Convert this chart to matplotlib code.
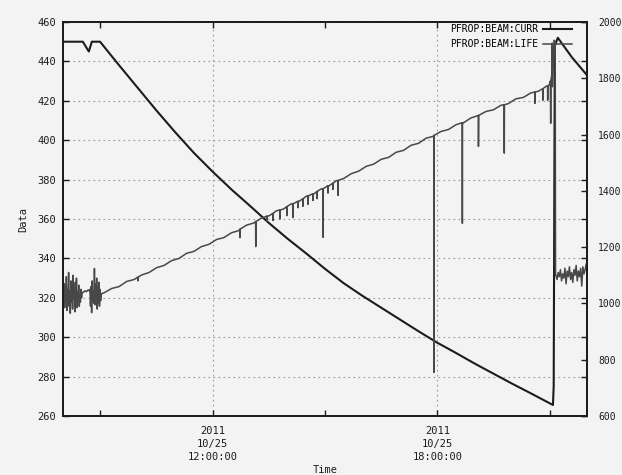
import numpy as np
import pandas as pd
import matplotlib
matplotlib.use("Agg")
import matplotlib.pyplot as plt
import matplotlib.dates as mdates

DAY = pd.Timestamp("2011-10-25")

# ---------------- data (hours of 2011-10-25) ----------------
# PFROP:BEAM:CURR  (left axis)
curr_hours = [8.00, 8.53, 8.69, 8.77, 8.99, 9.5, 10.0, 10.5, 11.0, 11.5, 12.0, 12.5,
              13.0, 13.5, 14.0, 14.5, 15.0, 15.5, 16.0, 16.5, 17.0, 17.5, 18.0, 18.5,
              19.0, 19.5, 20.0, 20.5, 21.0, 21.09, 21.11, 21.14, 21.22, 21.6, 22.0]
curr_values = [450, 450, 445, 450, 450, 438, 426.5, 415, 404, 393.5, 384, 375,
               366.6, 358, 350, 342.5, 334.7, 327.4, 321, 315, 309, 303, 297.2, 292,
               286.6, 281.5, 276.4, 271.5, 266.5, 265.6, 275, 448, 452, 442, 433]

# PFROP:BEAM:LIFE  (right axis)
# noisy start, 8:00 - 8:31, every 0.015 h
life_noise1_start, life_noise1_step = 8.00, 0.015
life_noise1 = [1040, 1000, 1070, 985, 1060, 1010, 1095, 975, 1050, 1020, 1110, 990,
               1045, 965, 1080, 1005, 1060, 980, 1100, 1015, 1055, 970, 1075, 1000,
               1090, 985, 1040, 1010, 1065, 990, 1030, 1005, 1050, 1020, 1035, 1040]
life_quiet_hours = [8.55, 8.59, 8.63, 8.67, 8.70]
life_quiet_values = [1040, 1045, 1042, 1048, 1045]
# second noisy part, 8:43 - 9:02
life_noise2_start, life_noise2_step = 8.72, 0.015
life_noise2 = [1050, 990, 1060, 967, 1080, 1010, 1040, 1000, 1124, 995, 1070, 1020,
               1090, 980, 1060, 1000, 1075, 990, 1050, 1010, 1030, 1035]
# steady rise, every 0.2 h from 9.1 h
life_trend_start, life_trend_step = 9.1, 0.2
life_trend = [1038, 1053, 1060, 1078, 1085, 1101, 1110, 1127, 1135, 1152,
              1160, 1178, 1185, 1202, 1210, 1227, 1234, 1251, 1259, 1278,
              1286, 1303, 1311, 1329, 1336, 1354, 1362, 1381, 1389, 1407,
              1417, 1436, 1444, 1461, 1470, 1487, 1495, 1512, 1519, 1537,
              1544, 1562, 1569, 1587, 1594, 1611, 1618, 1635, 1642, 1659,
              1666, 1682, 1688, 1704, 1710, 1727, 1732, 1748, 1754, 1771]
# downward spikes: hour, level before/after, bottom
dip_hours = [10.0, 12.73, 13.15, 13.45, 13.61, 13.80, 13.98, 14.14, 14.28, 14.41,
             14.55, 14.68, 14.79, 14.95, 15.08, 15.21, 15.35, 17.91, 18.67, 19.10,
             19.79, 20.61, 20.82, 20.95]
dip_top = [1093, 1264, 1291, 1310, 1320, 1332, 1344, 1354, 1363, 1372,
           1382, 1390, 1398, 1408, 1418, 1427, 1437, 1597, 1642, 1668,
           1706, 1751, 1763, 1773]
dip_bottom = [1080, 1234, 1202, 1290, 1295, 1300, 1312, 1305, 1340, 1345,
              1352, 1366, 1372, 1235, 1392, 1405, 1384, 755, 1285, 1558,
              1534, 1711, 1722, 1722]
# injection around 21:05
life_inj_hours = [21.00, 21.02, 21.03, 21.04, 21.06, 21.07, 21.08, 21.10, 21.12, 21.15, 21.16]
life_inj_values = [1778, 1790, 1640, 1800, 1810, 1925, 1770, 1850, 1935, 1930, 1100]
# noisy tail after injection
life_tail_start, life_tail_step = 21.17, 0.03
life_tail = [1100, 1085, 1110, 1095, 1120, 1080, 1105, 1090, 1125, 1070, 1115, 1095,
             1130, 1085, 1110, 1075, 1120, 1100, 1135, 1080, 1115, 1095, 1125, 1062,
             1130, 1105, 1120, 1140]

y_left_ticks = [260, 280, 300, 320, 340, 360, 380, 400, 420, 440, 460]
y_right_ticks = [600, 800, 1000, 1200, 1400, 1600, 1800, 2000]
x_major_hours = [12, 18]
x_minor_hours = [9, 15, 21]

# ---------------- build series ----------------
lh, lv = [], []
lh += [life_noise1_start + i * life_noise1_step for i in range(len(life_noise1))]
lv += life_noise1
lh += life_quiet_hours
lv += life_quiet_values
lh += [life_noise2_start + i * life_noise2_step for i in range(len(life_noise2))]
lv += life_noise2
lh += [life_trend_start + i * life_trend_step for i in range(len(life_trend))]
lv += life_trend
for h, t, b in zip(dip_hours, dip_top, dip_bottom):
    lh += [h - 0.004, h, h + 0.004]
    lv += [t, b, t]
lh += life_inj_hours
lv += life_inj_values
lh += [life_tail_start + i * life_tail_step for i in range(len(life_tail))]
lv += life_tail
order = np.argsort(np.array(lh), kind="stable")
lh = np.array(lh)[order]
lv = np.array(lv)[order]


def to_time(hours):
    return [DAY + pd.Timedelta(hours=float(h)) for h in hours]


BG = "#f3f3f3"
INK = "#1c1c1c"
MONO = "DejaVu Sans Mono"
plt.rcParams["font.family"] = MONO

fig = plt.figure(figsize=(6.22, 4.75), dpi=100, facecolor=BG)
ax = fig.add_axes([63 / 622, 1 - 416 / 475, 524 / 622, 394 / 475])
ax.set_facecolor(BG)
ax2 = ax.twinx()

l1, = ax.plot(to_time(curr_hours), curr_values, color=INK, lw=1.5,
              label="PFROP:BEAM:CURR", zorder=3)
l2, = ax2.plot(to_time(lh), lv, color="#484848", lw=1.1,
               label="PFROP:BEAM:LIFE", zorder=2)

ax.set_xlim(DAY + pd.Timedelta(hours=8), DAY + pd.Timedelta(hours=22))
ax.set_ylim(260, 460)
ax2.set_ylim(600, 2000)

ax.set_yticks(y_left_ticks)
ax2.set_yticks(y_right_ticks)
ax.set_xticks(to_time(x_major_hours))
ax.set_xticks(to_time(x_minor_hours), minor=True)
ax.xaxis.set_major_formatter(mdates.DateFormatter("%Y\n%m/%d\n%H:%M:%S"))

ax.grid(True, which="major", axis="both", color="#9a9a9a", lw=0.8,
        linestyle=(0, (1.5, 3)))
ax.set_axisbelow(True)

ax.tick_params(axis="y", which="both", direction="in", length=4, width=1,
               right=True, labelsize=7.5, pad=5, colors=INK)
ax.tick_params(axis="x", which="both", direction="in", length=4, width=1,
               top=True, labelsize=7.5, pad=7, colors=INK)
ax2.tick_params(axis="y", direction="in", length=4, width=1, labelsize=7.0,
                pad=8, colors=INK)
for lab in ax.get_xticklabels():
    lab.set_linespacing(1.4)

for a in (ax, ax2):
    for s in a.spines.values():
        s.set_color(INK)
        s.set_linewidth(1.3)

leg = ax.legend(handles=[l1, l2], loc="upper right", frameon=False,
                fontsize=7.0, markerfirst=False, handlelength=3.0,
                handletextpad=0.5, labelspacing=0.5,
                bbox_to_anchor=(0.985, 1.012), borderaxespad=0.3)
leg.set_zorder(10)

fig.text(23 / 622, 1 - 219 / 475, "Data", rotation=90, ha="center", va="center",
         fontsize=7.5, color=INK)
fig.text(325 / 622, 1 - 470 / 475, "Time", ha="center", va="center",
         fontsize=7.5, color=INK)

fig.savefig("out.png", dpi=100, facecolor=BG)
